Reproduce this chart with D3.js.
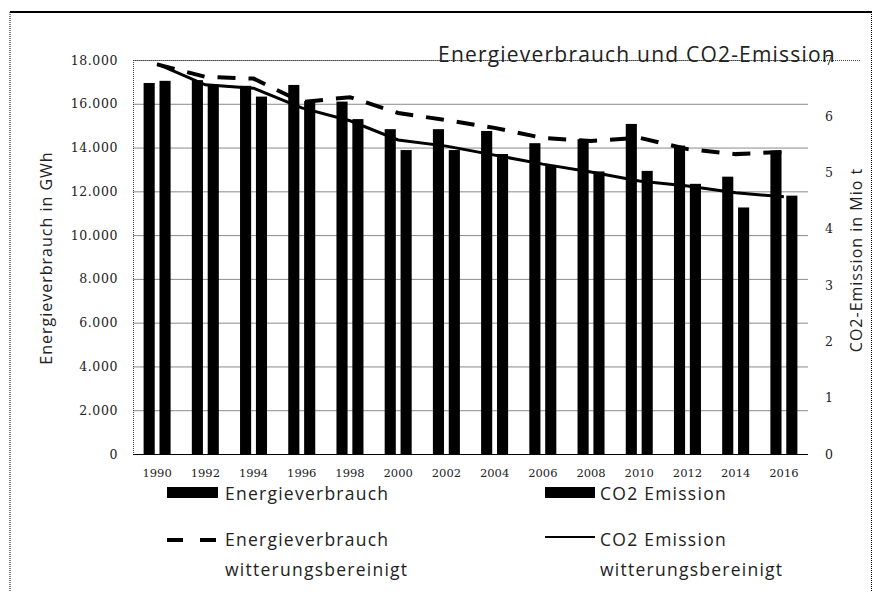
<!DOCTYPE html>
<html>
<head>
<meta charset="utf-8">
<script src="https://cdn.jsdelivr.net/npm/d3@7"></script>
<style>
  body { margin: 0; background: #fff; }
</style>
</head>
<body>
<div id="chart"></div>
<script>
// ---------- Daten ----------
const years = ['1990', '1992', '1994', '1996', '1998', '2000', '2002', '2004', '2006', '2008', '2010', '2012', '2014', '2016'];
const energy = [16950, 17080, 16820, 16860, 16100, 14840, 14840, 14760, 14200, 14380, 15080, 14090, 12670, 13860];
const co2 = [6.63, 6.56, 6.35, 6.27, 5.95, 5.40, 5.40, 5.33, 5.13, 5.02, 5.03, 4.80, 4.38, 4.59];
const energyAdj = [17800, 17230, 17150, 16080, 16300, 15580, 15250, 14900, 14440, 14300, 14450, 13930, 13700, 13800];
const co2Adj = [6.93, 6.56, 6.50, 6.15, 5.92, 5.58, 5.47, 5.31, 5.15, 5.01, 4.85, 4.76, 4.64, 4.57];
const leftTicks = [0, 2000, 4000, 6000, 8000, 10000, 12000, 14000, 16000, 18000];
const rightTicks = [0, 1, 2, 3, 4, 5, 6, 7];

const width = 881;
const height = 592;
const plot = { left: 133, right: 808, top: 60, bottom: 454 };

const de = d3.formatLocale({ decimal: ',', thousands: '.', grouping: [3], currency: ['', ' €'] });
const fmt = de.format(',');

const svg = d3.select('#chart').append('svg')
  .attr('width', width)
  .attr('height', height);

// Rahmen
svg.append('line').attr('x1', 10).attr('x2', 872).attr('y1', 12).attr('y2', 12)
  .attr('stroke', '#000').attr('stroke-width', 2);
svg.append('line').attr('x1', 10).attr('x2', 10).attr('y1', 12).attr('y2', height)
  .attr('stroke', '#000').attr('stroke-dasharray', '1,1');
svg.append('line').attr('x1', 871.5).attr('x2', 871.5).attr('y1', 12).attr('y2', height)
  .attr('stroke', '#000').attr('stroke-dasharray', '1,1');

// Skalen
const x0 = d3.scaleBand().domain(years).range([plot.left, plot.right])
  .paddingInner(0.44).paddingOuter(0.22);
const x1 = d3.scaleBand().domain(['e', 'c']).range([0, x0.bandwidth()]).paddingInner(0.3);
const yL = d3.scaleLinear().domain([0, 18000]).range([plot.bottom, plot.top]);
const yR = d3.scaleLinear().domain([0, 7]).range([plot.bottom, plot.top]);
const cx = (d) => x0(d) + x0.bandwidth() / 2;

// Gitternetz
svg.append('g').selectAll('line')
  .data(leftTicks.filter((d) => d > 0))
  .enter().append('line')
  .attr('x1', plot.left).attr('x2', plot.right)
  .attr('y1', (d) => yL(d) + 0.5).attr('y2', (d) => yL(d) + 0.5)
  .attr('stroke', '#8a8a8a')
  .attr('stroke-width', 1);

// Plotfläche Rand (gepunktet)
svg.append('line').attr('x1', plot.left).attr('x2', 860).attr('y1', plot.top + 0.5).attr('y2', plot.top + 0.5)
  .attr('stroke', '#444').attr('stroke-dasharray', '1,1');
svg.append('line').attr('x1', plot.left + 0.5).attr('x2', plot.left + 0.5).attr('y1', plot.top).attr('y2', plot.bottom)
  .attr('stroke', '#444').attr('stroke-dasharray', '1,1');

// Balken
const groups = svg.append('g').selectAll('g')
  .data(years)
  .enter().append('g')
  .attr('transform', (d) => `translate(${x0(d)},0)`);

groups.append('rect')
  .attr('x', x1('e'))
  .attr('width', x1.bandwidth())
  .attr('y', (d, i) => yL(energy[i]))
  .attr('height', (d, i) => plot.bottom - yL(energy[i]))
  .attr('fill', '#000');

groups.append('rect')
  .attr('x', x1('c'))
  .attr('width', x1.bandwidth())
  .attr('y', (d, i) => yR(co2[i]))
  .attr('height', (d, i) => plot.bottom - yR(co2[i]))
  .attr('fill', '#000');

// x-Achse Linie
svg.append('line').attr('x1', plot.left).attr('x2', plot.right)
  .attr('y1', plot.bottom + 0.5).attr('y2', plot.bottom + 0.5)
  .attr('stroke', '#000').attr('stroke-width', 1.2);

// Linien
const lineE = d3.line().x((d, i) => cx(years[i])).y((d) => yL(d));
const lineC = d3.line().x((d, i) => cx(years[i])).y((d) => yR(d));

svg.append('path')
  .datum(energyAdj)
  .attr('d', lineE)
  .attr('fill', 'none')
  .attr('stroke', '#000')
  .attr('stroke-width', 4)
  .attr('stroke-dasharray', '18,13');

svg.append('path')
  .datum(co2Adj)
  .attr('d', lineC)
  .attr('fill', 'none')
  .attr('stroke', '#000')
  .attr('stroke-width', 3);

// Achsen
const axisFont = '"DejaVu Serif", serif';
const axL = svg.append('g')
  .attr('transform', `translate(${plot.left},0)`)
  .call(d3.axisLeft(yL).tickValues(leftTicks).tickFormat(fmt).tickSize(0).tickPadding(15));
axL.select('.domain').remove();
axL.selectAll('text').attr('font-family', axisFont).attr('font-size', 12.5)
  .attr('letter-spacing', 0.6).attr('fill', '#222');

const axR = svg.append('g')
  .attr('transform', `translate(${plot.right},0)`)
  .call(d3.axisRight(yR).tickValues(rightTicks).tickFormat(d3.format('d')).tickSize(0).tickPadding(17));
axR.select('.domain').remove();
axR.selectAll('text').attr('font-family', axisFont).attr('font-size', 12.5).attr('fill', '#222');

const axB = svg.append('g')
  .attr('transform', `translate(0,${plot.bottom})`)
  .call(d3.axisBottom(x0).tickSize(0).tickPadding(15));
axB.select('.domain').remove();
axB.selectAll('text').attr('font-family', axisFont).attr('font-size', 11.5).attr('fill', '#222');

// Titel
const sans = '"Open Sans", sans-serif';
svg.append('text')
  .attr('x', 637).attr('y', 62)
  .attr('text-anchor', 'middle')
  .attr('font-family', sans)
  .attr('font-size', 21)
  .attr('letter-spacing', 1.2)
  .attr('fill', '#222')
  .text('Energieverbrauch und CO2-Emission');

// Achsentitel
svg.append('text')
  .attr('transform', 'translate(52,258) rotate(-90)')
  .attr('text-anchor', 'middle')
  .attr('font-family', sans)
  .attr('font-size', 16)
  .attr('letter-spacing', 1)
  .attr('fill', '#222')
  .text('Energieverbrauch in GWh');

svg.append('text')
  .attr('transform', 'translate(862,260) rotate(-90)')
  .attr('text-anchor', 'middle')
  .attr('font-family', sans)
  .attr('font-size', 16)
  .attr('letter-spacing', 1)
  .attr('fill', '#222')
  .text('CO2-Emission in Mio t');

// Legende
const legend = svg.append('g');
const legendFont = (sel) => sel.attr('font-family', sans).attr('font-size', 17.5)
  .attr('letter-spacing', 1.25).attr('fill', '#222');

legend.append('rect').attr('x', 167).attr('y', 487).attr('width', 51).attr('height', 11).attr('fill', '#000');
legend.append('text').attr('x', 225).attr('y', 500).call(legendFont).text('Energieverbrauch');

legend.append('rect').attr('x', 545).attr('y', 487).attr('width', 50).attr('height', 11).attr('fill', '#000');
legend.append('text').attr('x', 600).attr('y', 500).call(legendFont).text('CO2 Emission');

legend.append('line').attr('x1', 167).attr('x2', 218).attr('y1', 540).attr('y2', 540)
  .attr('stroke', '#000').attr('stroke-width', 4).attr('stroke-dasharray', '16,17');
legend.append('text').attr('x', 225).attr('y', 546).call(legendFont).text('Energieverbrauch');
legend.append('text').attr('x', 225).attr('y', 576).call(legendFont).text('witterungsbereinigt');

legend.append('line').attr('x1', 545).attr('x2', 595).attr('y1', 537).attr('y2', 537)
  .attr('stroke', '#000').attr('stroke-width', 2);
legend.append('text').attr('x', 600).attr('y', 546).call(legendFont).text('CO2 Emission');
legend.append('text').attr('x', 600).attr('y', 576).call(legendFont).text('witterungsbereinigt');
</script>
</body>
</html>
